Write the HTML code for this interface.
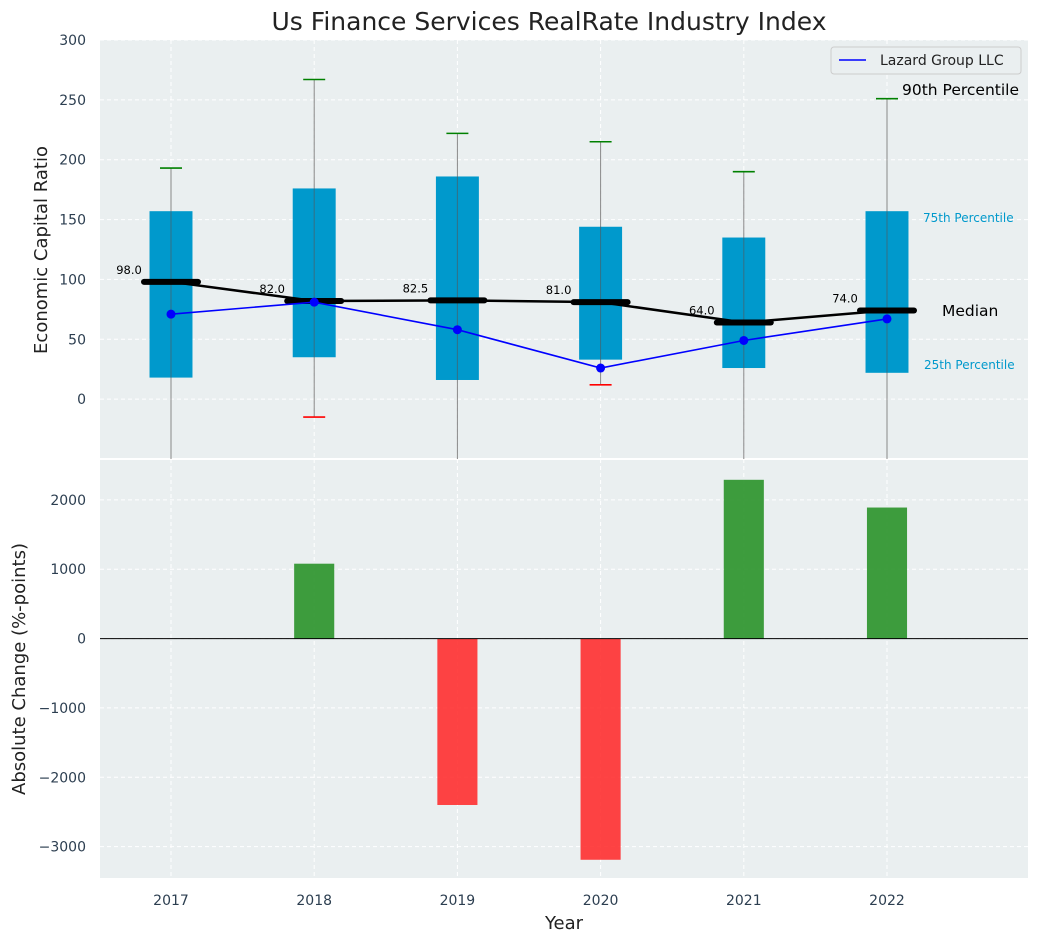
<!DOCTYPE html>
<html><head><meta charset="utf-8"><style>
body{margin:0;background:#fff;font-family:"Liberation Sans","DejaVu Sans",sans-serif;}
svg text{font-family:"DejaVu Sans","Liberation Sans",sans-serif;}
</style></head><body>
<svg id="chart" width="1039" height="942" xmlns="http://www.w3.org/2000/svg"></svg>
<script>
const years=[2017,2018,2019,2020,2021,2022];
const q1=[18,35,16,33,26,22];
const q3=[157,176,186,144,135,157];
const p90=[193,267,222,215,190,251];
const p10=[-80,-15,-80,12,-80,-80];
const medians=[98,82,82.5,81,64,74];
const lazard=[71,81,58,26,49,67];
const changes=[0,1080,-2400,-3190,2290,1890];
const topTicks=[0,50,100,150,200,250,300];
const botTicks=[-3000,-2000,-1000,0,1000,2000];

const svg=document.getElementById('chart');
const NS='http://www.w3.org/2000/svg';
function mk(tag,attrs,parent){const e=document.createElementNS(NS,tag);for(const k in attrs)e.setAttribute(k,attrs[k]);(parent||svg).appendChild(e);return e;}
const L=100,R=1028,T1=40,B1=459,T2=459,B2=878;
const x=v=>171+(v-2017)*143.2;
const y1=v=>B1-(v+50)/350*(B1-T1);
const y2=v=>B2-(v+3453)/(2590+3453)*(B2-T2);

let e=mk('rect',{x:L,y:T1,width:R-L,height:B1-T1,fill:'#eaeff0'});

e=mk('rect',{x:L,y:T2,width:R-L,height:B2-T2,fill:'#eaeff0'});

mk('line',{x1:L,x2:R,y1:459,y2:459,stroke:'#fff','stroke-width':2});

years.forEach(yr=>{
  mk('line',{x1:x(yr),x2:x(yr),y1:T1,y2:B1,stroke:'#fff','stroke-dasharray':'4,3'});
  mk('line',{x1:x(yr),x2:x(yr),y1:T2,y2:B2,stroke:'#fff','stroke-dasharray':'4,3'});
  const t=mk('text',{x:x(yr),y:905,'text-anchor':'middle','font-size':14,fill:'#2c3e50'});t.textContent=yr;
  
});
topTicks.forEach(v=>{
  mk('line',{x1:L,x2:R,y1:y1(v),y2:y1(v),stroke:'#fff','stroke-dasharray':'4,3'});
  const t=mk('text',{x:86,y:y1(v)+5,'text-anchor':'end','font-size':14,fill:'#2c3e50'});t.textContent=v;
  
});
botTicks.forEach(v=>{
  mk('line',{x1:L,x2:R,y1:y2(v),y2:y2(v),stroke:'#fff','stroke-dasharray':'4,3'});
  const t=mk('text',{x:86,y:y2(v)+5,'text-anchor':'end','font-size':14,fill:'#2c3e50'});t.textContent=(v<0?'\u2212'+(-v):v);
  
});

const defs=mk('defs',{});
const cp=mk('clipPath',{id:'c1'},defs);mk('rect',{x:L,y:T1,width:R-L,height:B1-T1},cp);
const g=mk('g',{'clip-path':'url(#c1)'});
const bw=x(2017.15)-x(2017);
years.forEach((yr,i)=>{
  let w=mk('line',{x1:x(yr),x2:x(yr),y1:y1(p90[i]),y2:y1(p10[i]),stroke:'#888','stroke-width':1},g);
  
  let b=mk('rect',{x:x(yr)-bw,y:y1(q3[i]),width:2*bw,height:y1(q1[i])-y1(q3[i]),fill:'#0099cc'},g);
  
  mk('line',{x1:x(yr),x2:x(yr),y1:y1(q3[i]),y2:y1(q1[i]),stroke:'#555','stroke-width':1,opacity:0.6},g);
  let c=mk('line',{x1:x(yr)-11,x2:x(yr)+11,y1:y1(p90[i]),y2:y1(p90[i]),stroke:'green','stroke-width':1.6},g);
  
  if(p10[i]>-50){c=mk('line',{x1:x(yr)-11,x2:x(yr)+11,y1:y1(p10[i]),y2:y1(p10[i]),stroke:'red','stroke-width':1.6},g);
  }
});
let p=mk('polyline',{points:years.map((yr,i)=>x(yr)+','+y1(medians[i])).join(' '),fill:'none',stroke:'#000','stroke-width':2.5},g);

years.forEach((yr,i)=>{
  let m=mk('line',{x1:x(yr)-27,x2:x(yr)+27,y1:y1(medians[i]),y2:y1(medians[i]),stroke:'#000','stroke-width':6,'stroke-linecap':'round'},g);
  
  let t=mk('text',{x:x(yr)-42,y:y1(medians[i])-8,'text-anchor':'middle','font-size':11.5,fill:'#000'});t.textContent=medians[i].toFixed(1);
  
});
p=mk('polyline',{points:years.map((yr,i)=>x(yr)+','+y1(lazard[i])).join(' '),fill:'none',stroke:'blue','stroke-width':1.6},g);

years.forEach((yr,i)=>{let c=mk('circle',{cx:x(yr),cy:y1(lazard[i]),r:4.5,fill:'blue'},g);
  });

const ann=[['90th Percentile',902,95,15.5,'#000','percentile-90-label'],['75th Percentile',923,222,12,'#0099cc','percentile-75-label'],['25th Percentile',924,369,12,'#0099cc','percentile-25-label'],['Median',942,316,15.5,'#000','median-annotation']];
ann.forEach(a=>{let t=mk('text',{x:a[1],y:a[2],'font-size':a[3],fill:a[4]});t.textContent=a[0];});

const bh=x(2017.14)-x(2017);
years.forEach((yr,i)=>{
  const v=changes[i];if(v===0)return;
  let r=mk('rect',{x:x(yr)-bh,y:Math.min(y2(v),y2(0)),width:2*bh,height:Math.abs(y2(v)-y2(0)),fill:v>0?'#2e952e':'#ff2a2a',opacity:v>0?0.92:0.88});
  
});
mk('line',{x1:L,x2:R,y1:y2(0),y2:y2(0),stroke:'#000','stroke-width':1});

let lg=mk('g',{});
mk('rect',{x:831,y:47,width:190,height:27,rx:3,fill:'#eaeff0',stroke:'#ccc'},lg);
mk('line',{x1:839,x2:866,y1:60,y2:60,stroke:'blue','stroke-width':1.6},lg);
let t=mk('text',{x:880,y:65,'font-size':14,fill:'#222'},lg);t.textContent='Lazard Group LLC';

t=mk('text',{x:549,y:30,'text-anchor':'middle','font-size':25,fill:'#222'});t.textContent='Us Finance Services RealRate Industry Index';

t=mk('text',{x:0,y:0,'text-anchor':'middle','font-size':18,fill:'#222',transform:'translate(47,250) rotate(-90)'});t.textContent='Economic Capital Ratio';

t=mk('text',{x:0,y:0,'text-anchor':'middle','font-size':18,fill:'#222',transform:'translate(25,669) rotate(-90)'});t.textContent='Absolute Change (%-points)';

t=mk('text',{x:564,y:929,'text-anchor':'middle','font-size':18,fill:'#222'});t.textContent='Year';

</script>
</body></html>
